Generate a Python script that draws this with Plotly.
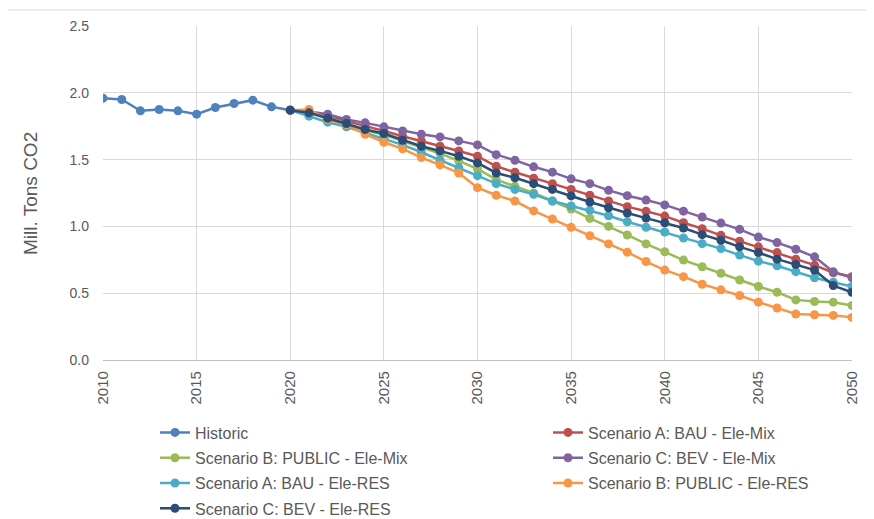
import plotly.graph_objects as go

hist_years = list(range(2010, 2021))
historic = [1.96, 1.95, 1.865, 1.875, 1.865, 1.84, 1.89, 1.92, 1.945, 1.895, 1.87]

scen_years = list(range(2020, 2051))
a_bau_mix = [1.87, 1.86, 1.825, 1.79, 1.755, 1.715, 1.675, 1.64, 1.60, 1.565, 1.525,
             1.45, 1.405, 1.36, 1.32, 1.277, 1.233, 1.19, 1.148, 1.114, 1.077,
             1.027, 0.983, 0.933, 0.889, 0.847, 0.804, 0.755, 0.71, 0.653, 0.624]
b_public_mix = [1.87, 1.86, 1.815, 1.77, 1.72, 1.685, 1.64, 1.59, 1.545, 1.49, 1.43,
                1.35, 1.30, 1.25, 1.19, 1.13, 1.06, 1.0, 0.936, 0.869, 0.81,
                0.748, 0.698, 0.649, 0.599, 0.55, 0.507, 0.45, 0.438, 0.433, 0.408]
c_bev_mix = [1.87, 1.86, 1.84, 1.80, 1.775, 1.745, 1.715, 1.69, 1.67, 1.64, 1.61,
             1.537, 1.495, 1.446, 1.406, 1.356, 1.32, 1.27, 1.23, 1.197, 1.161,
             1.114, 1.07, 1.025, 0.978, 0.92, 0.879, 0.829, 0.772, 0.66, 0.616]
a_bau_res = [1.87, 1.825, 1.78, 1.745, 1.70, 1.66, 1.61, 1.555, 1.495, 1.44, 1.38,
             1.32, 1.277, 1.24, 1.19, 1.153, 1.12, 1.08, 1.035, 0.994, 0.958,
             0.913, 0.871, 0.834, 0.785, 0.74, 0.705, 0.661, 0.616, 0.582, 0.55]
b_public_res = [1.87, 1.875, 1.80, 1.76, 1.69, 1.63, 1.58, 1.515, 1.46, 1.40, 1.29,
                1.233, 1.19, 1.116, 1.055, 0.993, 0.93, 0.869, 0.807, 0.737, 0.673,
                0.624, 0.567, 0.525, 0.483, 0.433, 0.389, 0.344, 0.339, 0.334, 0.319]
c_bev_res = [1.87, 1.85, 1.81, 1.77, 1.725, 1.695, 1.645, 1.60, 1.565, 1.525, 1.475,
             1.40, 1.364, 1.32, 1.277, 1.228, 1.183, 1.14, 1.10, 1.062, 1.027,
             0.988, 0.938, 0.896, 0.847, 0.804, 0.755, 0.715, 0.673, 0.557, 0.507]

# name, x, y, colour, legend column
series = [
    ("Historic", hist_years, historic, "#4F81BD", "legend"),
    ("Scenario A: BAU - Ele-Mix", scen_years, a_bau_mix, "#C0504D", "legend2"),
    ("Scenario B: PUBLIC - Ele-Mix", scen_years, b_public_mix, "#9BBB59", "legend"),
    ("Scenario C: BEV - Ele-Mix", scen_years, c_bev_mix, "#8064A2", "legend2"),
    ("Scenario A: BAU - Ele-RES", scen_years, a_bau_res, "#4BACC6", "legend"),
    ("Scenario B: PUBLIC - Ele-RES", scen_years, b_public_res, "#F79646", "legend2"),
    ("Scenario C: BEV - Ele-RES", scen_years, c_bev_res, "#2C4D75", "legend"),
]

fig = go.Figure()
for name, xs, ys, color, leg in series:
    fig.add_trace(go.Scatter(
        x=xs, y=ys, name=name, mode="lines+markers", legend=leg, legendgroup=name,
        line=dict(color=color, width=2.5),
        marker=dict(color=color, size=9),
    ))

legend_style = dict(
    orientation="v", xanchor="left", yanchor="top",
    xref="container", yref="container",
    font=dict(size=16, color="#595959"), tracegroupgap=1.5, itemwidth=30,
    bgcolor="rgba(0,0,0,0)",
)

fig.update_layout(
    width=866, height=511,
    margin=dict(l=95, r=22, t=18, b=159, autoexpand=False),
    paper_bgcolor="white", plot_bgcolor="white",
    font=dict(family="Liberation Sans, Arial", color="#595959"),
    xaxis=dict(
        range=[2010, 2050], tickmode="linear", tick0=2010, dtick=5,
        tickangle=-90, tickfont=dict(size=15),
        showgrid=True, gridcolor="#D9D9D9", gridwidth=1.3,
        showline=True, linecolor="#BFBFBF", linewidth=1.3,
        zeroline=False, ticks="", ticklabelstandoff=4,
    ),
    yaxis=dict(
        range=[0, 2.5], dtick=0.5, tickformat=".1f", tickfont=dict(size=14),
        showgrid=True, gridcolor="#D9D9D9", gridwidth=1.3,
        zeroline=False, ticks="", ticklabelstandoff=13,
    ),
    legend=dict(legend_style, x=147 / 866, y=(511 - 407.5) / 511),
    legend2=dict(legend_style, x=540 / 866, y=(511 - 407.5) / 511),
    annotations=[dict(
        text="Mill. Tons CO2", textangle=-90, showarrow=False,
        xref="paper", yref="paper", x=-0.0975, y=0.5,
        xanchor="center", yanchor="middle",
        font=dict(size=19, color="#595959"),
    )],
    shapes=[dict(
        type="line", xref="paper", yref="paper",
        x0=-0.127, x1=1.021, y0=1.048, y1=1.048,
        line=dict(color="#D9D9D9", width=1),
    )],
)

fig.write_html("out.html")
